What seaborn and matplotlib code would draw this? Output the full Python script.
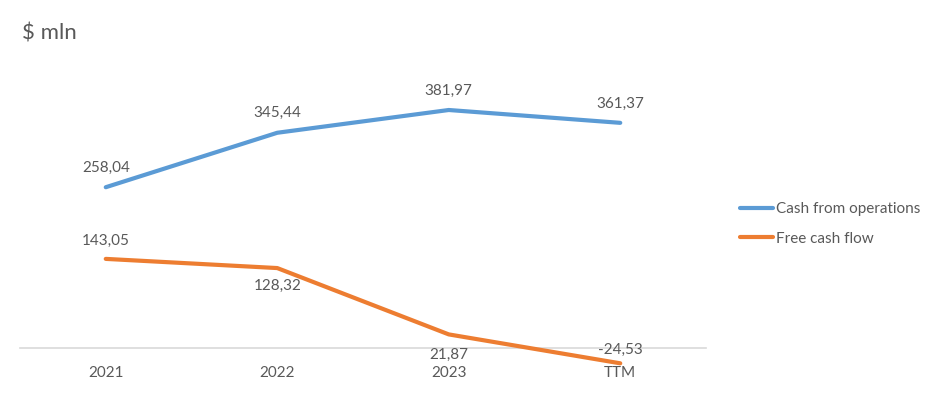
import matplotlib
matplotlib.use("Agg")
import matplotlib.pyplot as plt
import seaborn as sns
import pandas as pd
from matplotlib.lines import Line2D

categories = ["2021", "2022", "2023", "TTM"]
cash_ops = [258.04, 345.44, 381.97, 361.37]
free_cf = [143.05, 128.32, 21.87, -24.53]
series_names = ["Cash from operations", "Free cash flow"]

sns.set_theme(style="white")
plt.rcParams['font.family'] = ['Lato', 'DejaVu Sans']

text_color = "#595959"
colors = ["#5B9BD5", "#ED7D31"]

df = pd.DataFrame({
    "x": list(range(len(categories))) * 2,
    "value": cash_ops + free_cf,
    "series": [series_names[0]] * len(categories) + [series_names[1]] * len(categories),
})

fig = plt.figure(figsize=(9.41, 4.01), dpi=100)
ax = fig.add_axes([20 / 941, 0.0544, 686 / 941, 0.777])

sns.lineplot(data=df, x="x", y="value", hue="series", palette=colors,
             linewidth=3, ax=ax, legend=False, sort=False)
for line in ax.get_lines():
    line.set_solid_capstyle("round")

ax.set_xlim(-0.5, 3.5)
ax.set_ylim(-50, 450)
for s in ["top", "right", "left"]:
    ax.spines[s].set_visible(False)
ax.spines["bottom"].set_position(("data", 0))
ax.spines["bottom"].set_color("#D9D9D9")
ax.spines["bottom"].set_linewidth(1.2)
ax.spines["bottom"].set_zorder(0)
ax.set_xticks(range(len(categories)))
ax.set_xticklabels(categories, color=text_color, fontsize=11)
ax.tick_params(axis="x", length=0, pad=13)
ax.set_yticks([])
ax.set_xlabel("")
ax.set_ylabel("")

def fmt(v):
    return f"{v:.2f}".replace(".", ",")

ops_off = [14, 14, 14, 14]
fcf_off = [13, -13, -15, 10]
for i, v in enumerate(cash_ops):
    ax.annotate(fmt(v), (i, v), xytext=(0, ops_off[i]), textcoords="offset points",
                ha="center", va="center", color=text_color, fontsize=11)
for i, v in enumerate(free_cf):
    ax.annotate(fmt(v), (i, v), xytext=(0, fcf_off[i]), textcoords="offset points",
                ha="center", va="center", color=text_color, fontsize=11)

fig.text(22 / 941, 1 - 34 / 401, "$ mln", color=text_color, fontsize=16,
         ha="left", va="center")

handles = [Line2D([0], [0], color=c, lw=3, solid_capstyle="round") for c in colors]
fig.legend(handles, series_names, loc="center left",
           bbox_to_anchor=(726 / 941, 1 - 224 / 401), frameon=False,
           fontsize=11, handlelength=2.2, handletextpad=0.15,
           labelspacing=1.0, labelcolor=text_color)

fig.savefig("out.png", dpi=100, facecolor="white")
